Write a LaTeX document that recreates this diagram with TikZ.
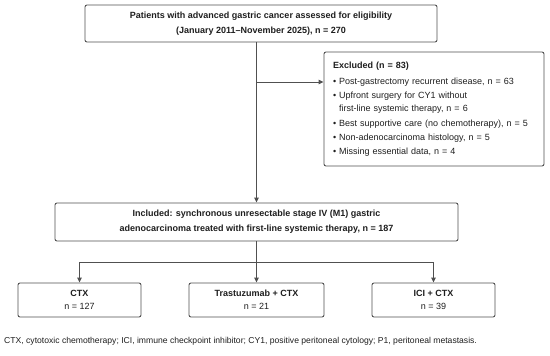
\documentclass[tikz,border=0pt]{standalone}
\usepackage{fontspec}
\setmainfont{Liberation Sans}
\usetikzlibrary{arrows.meta}
\definecolor{framegray}{HTML}{505050}
\definecolor{textgray}{HTML}{1E1E1E}

\begin{document}
\begin{tikzpicture}[x=1pt,y=-1pt,
  flowbox/.style={draw=framegray,line width=0.9pt,rounded corners=2pt,inner sep=0pt,
    align=center,text=textgray,font=\fontsize{9}{15}\selectfont},
  flowarrow/.style={draw=framegray,line width=0.9pt,-{Triangle[length=5pt,width=4.5pt]}}]
\useasboundingbox (0,0) rectangle (550,356);

% screening and exclusions
\node[flowbox,minimum width=352pt,minimum height=37pt] (screen) at (261,23.5)
  {\textbf{Patients with advanced gastric cancer assessed for eligibility}\\
   \textbf{(January 2011--November 2025), n = 270}};
\node[flowbox,align=left,text width=202pt,minimum height=114pt,inner xsep=9pt,
  font=\fontsize{9}{14}\selectfont] (excl) at (434,109)
  {\textbf{Excluded (n = 83)}\\[2pt]
   • Post-gastrectomy recurrent disease, n = 63\\
   • Upfront surgery for CY1 without\\[-1pt]
   \hphantom{• }first-line systemic therapy, n = 6\\[1pt]
   • Best supportive care (no chemotherapy), n = 5\\
   • Non-adenocarcinoma histology, n = 5\\
   • Missing essential data, n = 4};

% included cohort
\node[flowbox,minimum width=403pt,minimum height=38pt] (incl) at (256.5,222)
  {\textbf{Included: synchronous unresectable stage IV (M1) gastric}\\
   \textbf{adenocarcinoma treated with first-line systemic therapy, n = 187}};

% treatment groups
\node[flowbox,minimum width=123pt,minimum height=34pt,font=\fontsize{9}{13}\selectfont] (ctx) at (79.5,300)
  {\textbf{CTX}\\n = 127};
\node[flowbox,minimum width=135pt,minimum height=34pt,font=\fontsize{9}{13}\selectfont] (tras) at (256.5,300)
  {\textbf{Trastuzumab + CTX}\\n = 21};
\node[flowbox,minimum width=123pt,minimum height=34pt,font=\fontsize{9}{13}\selectfont] (ici) at (433.5,300)
  {\textbf{ICI + CTX}\\n = 39};

\coordinate (split) at (256.5,82);
\coordinate (fork) at (256.5,262);

\draw[flowarrow] (screen.south -| incl) -- (incl);
\draw[flowarrow] (split) -- (split -| excl.west);
\draw[draw=framegray,line width=0.9pt] (incl) -- (fork);
\draw[flowarrow] (fork) -| (ctx);
\draw[flowarrow] (fork) -- (tras);
\draw[flowarrow] (fork) -| (ici);

\node[anchor=west,inner sep=0pt,text=textgray,font=\fontsize{8.6}{10}\selectfont] (note) at (4,341)
  {CTX, cytotoxic chemotherapy; ICI, immune checkpoint inhibitor; CY1, positive peritoneal cytology; P1, peritoneal metastasis.};
\end{tikzpicture}
\end{document}
